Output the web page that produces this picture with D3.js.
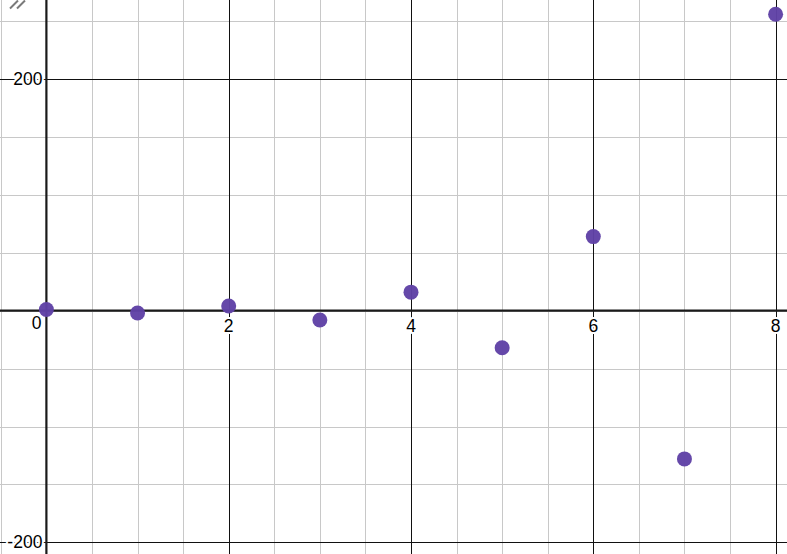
<!DOCTYPE html>
<html><head><meta charset="utf-8">
<script src="https://cdn.jsdelivr.net/npm/d3@7"></script>
<style>html,body{margin:0;padding:0;background:#fff;overflow:hidden}</style>
</head><body>
<svg id="c" width="787" height="554"></svg>
<script>
const xs = [0, 1, 2, 3, 4, 5, 6, 7, 8];
const ys = [1, -2, 4, -8, 16, -32, 64, -128, 256];
const xTickLabels = [0, 2, 4, 6, 8];
const yTickLabels = [-200, 200];

const W = 787, H = 554;
const x = d3.scaleLinear().domain([-0.509, 8.125]).range([0, W]);
const y = d3.scaleLinear().domain([-210.1, 268.3]).range([H, 0]);
const svg = d3.select("#c");

// minor grid
const minorX = d3.range(-0.5, 8.01, 0.5);
const minorY = d3.range(-200, 251, 50);
svg.append("g").selectAll("line").data(minorX).join("line")
  .attr("x1", d => Math.round(x(d)) + 0.5).attr("x2", d => Math.round(x(d)) + 0.5)
  .attr("y1", 0).attr("y2", H).attr("stroke", "#c8c8c8").attr("stroke-width", 1);
svg.append("g").selectAll("line").data(minorY).join("line")
  .attr("y1", d => Math.round(y(d)) + 0.5).attr("y2", d => Math.round(y(d)) + 0.5)
  .attr("x1", 0).attr("x2", W).attr("stroke", "#c8c8c8").attr("stroke-width", 1);

// major grid
svg.append("g").selectAll("line").data(xTickLabels.filter(d => d !== 0)).join("line")
  .attr("x1", d => Math.round(x(d)) + 0.5).attr("x2", d => Math.round(x(d)) + 0.5)
  .attr("y1", 0).attr("y2", H).attr("stroke", "#111").attr("stroke-width", 1);
svg.append("g").selectAll("line").data(yTickLabels).join("line")
  .attr("y1", d => Math.round(y(d)) + 0.5).attr("y2", d => Math.round(y(d)) + 0.5)
  .attr("x1", 0).attr("x2", W).attr("stroke", "#111").attr("stroke-width", 1);

// axes
svg.append("line").attr("x1", 0).attr("x2", W).attr("y1", y(0)).attr("y2", y(0))
  .attr("stroke", "#1a1a1a").attr("stroke-width", 2.2);
svg.append("line").attr("y1", 0).attr("y2", H).attr("x1", x(0)).attr("x2", x(0))
  .attr("stroke", "#1a1a1a").attr("stroke-width", 2.2);

// "//" marker top-left
svg.append("g").selectAll("line").data([0, 7]).join("line")
  .attr("x1", d => 10 + d).attr("y1", 8.5).attr("x2", d => 18 + d).attr("y2", 0.5)
  .attr("stroke", "#7a7a7a").attr("stroke-width", 2);

// labels
const font = "Arial, 'Liberation Sans', sans-serif";
function lbl(t, px, py, anchor) {
  const g = svg.append("g");
  g.append("text").attr("x", px).attr("y", py).attr("text-anchor", anchor)
    .attr("font-family", font).attr("font-size", 17.5)
    .attr("stroke", "#fff").attr("stroke-width", 4).attr("stroke-linejoin", "round")
    .attr("fill", "#fff").text(t);
  g.append("text").attr("x", px).attr("y", py).attr("text-anchor", anchor)
    .attr("font-family", font).attr("font-size", 17.5).attr("fill", "#000").text(t);
}
xTickLabels.forEach(d => {
  if (d === 0) lbl("0", x(0) - 5, y(0) + 18, "end");
  else lbl(String(d), x(d), y(0) + 21, "middle");
});
yTickLabels.forEach(d => {
  lbl(d < 0 ? "-" + Math.abs(d) : String(d), x(0) - 4, y(d) + 6, "end");
});

// points
svg.append("g").selectAll("circle").data(xs.map((d, i) => [d, ys[i]])).join("circle")
  .attr("cx", d => x(d[0])).attr("cy", d => y(d[1])).attr("r", 7.5)
  .attr("fill", "#6042a6").attr("fill-opacity", 0.97);
</script>
</body></html>
